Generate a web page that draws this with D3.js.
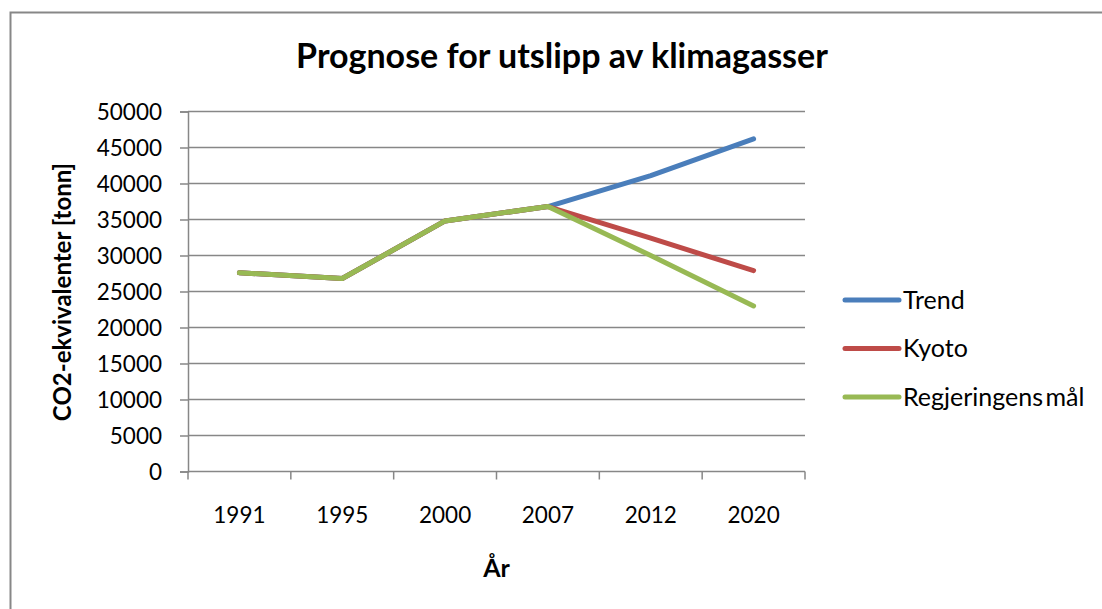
<!DOCTYPE html>
<html>
<head>
<meta charset="utf-8">
<script src="https://cdn.jsdelivr.net/npm/d3@7"></script>
<style>
    html, body { margin: 0; padding: 0; background: #fff; }
    svg { display: block; font-family: Lato, "Open Sans", sans-serif; }
</style>
</head>
<body>
<svg id="chart" width="1102" height="609"></svg>
<script>
const years = ["1991", "1995", "2000", "2007", "2012", "2020"];
const trendValues = [27600, 26800, 34800, 36800, 41100, 46200];
const kyotoValues = [27600, 26800, 34800, 36800, 32400, 27900];
const regjeringValues = [27600, 26800, 34800, 36800, 30000, 23000];
const seriesNames = ["Trend", "Kyoto", "Regjeringens mål"];
const seriesColors = ["#4a7ebb", "#be4b48", "#98b954"];
const yTicks = [0, 5000, 10000, 15000, 20000, 25000, 30000, 35000, 40000, 45000, 50000];

const svg = d3.select("#chart");

const plot = { left: 188, right: 805, top: 111.5, bottom: 471.5 };
const gridColor = "#878787";

// chart border (only top and left edges fall inside the picture)
svg.append("rect")
    .attr("x", 10.5)
    .attr("y", 12.5)
    .attr("width", 1200)
    .attr("height", 700)
    .attr("fill", "none")
    .attr("stroke", gridColor)
    .attr("stroke-width", 2);

const x = d3.scaleBand()
    .domain(years)
    .range([plot.left, plot.right]);

const y = d3.scaleLinear()
    .domain([0, 50000])
    .range([plot.bottom, plot.top]);

// horizontal grid lines
svg.append("g")
    .selectAll("line")
    .data(yTicks.filter(function(d) { return d > 0; }))
    .join("line")
    .attr("x1", plot.left)
    .attr("x2", plot.right)
    .attr("y1", function(d) { return y(d); })
    .attr("y2", function(d) { return y(d); })
    .attr("stroke", gridColor)
    .attr("stroke-width", 1.5);

// y axis
const yAxis = svg.append("g")
    .attr("transform", "translate(" + plot.left + ",0)")
    .call(d3.axisLeft(y).tickValues(yTicks).tickSize(8).tickPadding(18).tickFormat(d3.format("d")));

yAxis.select(".domain").attr("stroke", gridColor).attr("stroke-width", 1.5);
yAxis.selectAll(".tick line").attr("stroke", gridColor).attr("stroke-width", 1.5);
yAxis.selectAll(".tick text")
    .attr("font-family", "Lato")
    .attr("font-size", 22.5)
    .attr("fill", "#000")
    .attr("dy", "0.36em");

// x axis: labels in band centres, tick marks on band edges
const xAxis = svg.append("g")
    .attr("transform", "translate(0," + plot.bottom + ")")
    .call(d3.axisBottom(x).tickSize(0).tickPadding(36));

xAxis.select(".domain").remove();
xAxis.selectAll(".tick text")
    .attr("font-family", "Lato")
    .attr("font-size", 22.5)
    .attr("fill", "#000");

svg.append("line")
    .attr("x1", plot.left)
    .attr("x2", plot.right)
    .attr("y1", plot.bottom)
    .attr("y2", plot.bottom)
    .attr("stroke", gridColor)
    .attr("stroke-width", 1.5);

svg.append("g")
    .selectAll("line")
    .data(years.map(function(d) { return x(d); }).concat([plot.right]))
    .join("line")
    .attr("x1", function(d) { return d; })
    .attr("x2", function(d) { return d; })
    .attr("y1", plot.bottom)
    .attr("y2", plot.bottom + 8)
    .attr("stroke", gridColor)
    .attr("stroke-width", 1.5);

// lines
const allSeries = [trendValues, kyotoValues, regjeringValues];

const line = d3.line()
    .x(function(d, i) { return x(years[i]) + x.bandwidth() / 2; })
    .y(function(d) { return y(d); });

svg.append("g")
    .selectAll("path")
    .data(allSeries)
    .join("path")
    .attr("d", line)
    .attr("fill", "none")
    .attr("stroke", function(d, i) { return seriesColors[i]; })
    .attr("stroke-width", 5)
    .attr("stroke-linecap", "round")
    .attr("stroke-linejoin", "round");

// legend
const legend = svg.append("g")
    .selectAll("g")
    .data(seriesNames)
    .join("g")
    .attr("transform", function(d, i) { return "translate(845," + (300 + i * 48.5) + ")"; });

legend.append("line")
    .attr("x1", 0)
    .attr("x2", 54)
    .attr("stroke", function(d, i) { return seriesColors[i]; })
    .attr("stroke-width", 5)
    .attr("stroke-linecap", "round");

legend.append("text")
    .attr("x", 58)
    .attr("y", 8.5)
    .attr("font-size", 25)
    .attr("word-spacing", -4)
    .attr("fill", "#000")
    .text(function(d) { return d; });

// titles
svg.append("text")
    .attr("x", 562)
    .attr("y", 68)
    .attr("text-anchor", "middle")
    .attr("font-size", 34)
    .attr("font-weight", "bold")
    .text("Prognose for utslipp av klimagasser");

svg.append("text")
    .attr("transform", "translate(71,292) rotate(-90)")
    .attr("text-anchor", "middle")
    .attr("font-size", 24)
    .attr("font-weight", "bold")
    .text("CO2-ekvivalenter [tonn]");

svg.append("text")
    .attr("x", (plot.left + plot.right) / 2)
    .attr("y", 577)
    .attr("text-anchor", "middle")
    .attr("font-size", 25)
    .attr("font-weight", "bold")
    .text("År");
</script>
</body>
</html>
